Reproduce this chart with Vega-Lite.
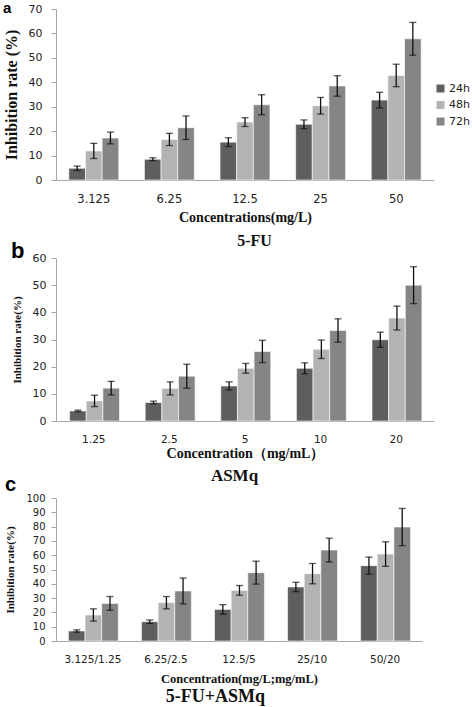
{
  "$schema": "https://vega.github.io/schema/vega-lite/v6.json",
  "background": "white",
  "padding": {"left": 3, "top": 1, "right": 0, "bottom": 0},
  "spacing": -9,
  "config": {
    "view": {"stroke": null},
    "axis": {"domainColor": "#a6a6a6", "tickColor": "#a6a6a6", "grid": false, "labelFont": "DejaVu Sans", "labelColor": "#222222", "titleFont": "Liberation Serif", "titleFontWeight": "bold", "titleColor": "#111111", "labelOverlap": false},
    "axisX": {"ticks": false, "labelAngle": 0},
    "axisY": {"tickSize": 5},
    "title": {"font": "Liberation Serif", "fontWeight": "bold", "color": "#111111"},
    "legend": {"title": null, "symbolType": "square", "symbolSize": 64, "symbolStrokeWidth": 0, "labelFont": "DejaVu Sans", "labelFontSize": 11, "labelColor": "#222222", "labelOffset": 3}
  },
  "datasets": {
    "a": [
      {"conc": "3.125", "time": "24h", "v": 4.8, "lo": 3.9, "hi": 5.7},
      {"conc": "3.125", "time": "48h", "v": 11.9, "lo": 8.8, "hi": 15.0},
      {"conc": "3.125", "time": "72h", "v": 17.2, "lo": 14.8, "hi": 19.6},
      {"conc": "6.25", "time": "24h", "v": 8.5, "lo": 7.9, "hi": 9.1},
      {"conc": "6.25", "time": "48h", "v": 16.6, "lo": 14.1, "hi": 19.1},
      {"conc": "6.25", "time": "72h", "v": 21.4, "lo": 16.6, "hi": 26.2},
      {"conc": "12.5", "time": "24h", "v": 15.5, "lo": 13.7, "hi": 17.3},
      {"conc": "12.5", "time": "48h", "v": 23.7, "lo": 21.9, "hi": 25.5},
      {"conc": "12.5", "time": "72h", "v": 30.8, "lo": 26.7, "hi": 34.9},
      {"conc": "25", "time": "24h", "v": 22.8, "lo": 21.0, "hi": 24.6},
      {"conc": "25", "time": "48h", "v": 30.4, "lo": 27.0, "hi": 33.8},
      {"conc": "25", "time": "72h", "v": 38.5, "lo": 34.3, "hi": 42.7},
      {"conc": "50", "time": "24h", "v": 32.7, "lo": 29.5, "hi": 35.9},
      {"conc": "50", "time": "48h", "v": 42.8, "lo": 38.2, "hi": 47.4},
      {"conc": "50", "time": "72h", "v": 57.8, "lo": 51.1, "hi": 64.5}
    ],
    "b": [
      {"conc": "1.25", "time": "24h", "v": 3.7, "lo": 3.4, "hi": 4.0},
      {"conc": "1.25", "time": "48h", "v": 7.4, "lo": 5.3, "hi": 9.5},
      {"conc": "1.25", "time": "72h", "v": 12.1, "lo": 9.6, "hi": 14.6},
      {"conc": "2.5", "time": "24h", "v": 6.8, "lo": 6.3, "hi": 7.3},
      {"conc": "2.5", "time": "48h", "v": 12.0, "lo": 9.6, "hi": 14.4},
      {"conc": "2.5", "time": "72h", "v": 16.5, "lo": 12.1, "hi": 20.9},
      {"conc": "5", "time": "24h", "v": 12.9, "lo": 11.4, "hi": 14.4},
      {"conc": "5", "time": "48h", "v": 19.4, "lo": 17.6, "hi": 21.2},
      {"conc": "5", "time": "72h", "v": 25.6, "lo": 21.5, "hi": 29.7},
      {"conc": "10", "time": "24h", "v": 19.4, "lo": 17.4, "hi": 21.4},
      {"conc": "10", "time": "48h", "v": 26.4, "lo": 23.0, "hi": 29.8},
      {"conc": "10", "time": "72h", "v": 33.3, "lo": 29.0, "hi": 37.6},
      {"conc": "20", "time": "24h", "v": 29.9, "lo": 27.1, "hi": 32.7},
      {"conc": "20", "time": "48h", "v": 37.9, "lo": 33.5, "hi": 42.3},
      {"conc": "20", "time": "72h", "v": 50.0, "lo": 43.2, "hi": 56.8}
    ],
    "c": [
      {"conc": "3.125/1.25", "time": "24h", "v": 7.0, "lo": 6.2, "hi": 7.8},
      {"conc": "3.125/1.25", "time": "48h", "v": 18.2, "lo": 13.9, "hi": 22.5},
      {"conc": "3.125/1.25", "time": "72h", "v": 26.3, "lo": 21.5, "hi": 31.1},
      {"conc": "6.25/2.5", "time": "24h", "v": 13.5, "lo": 12.3, "hi": 14.7},
      {"conc": "6.25/2.5", "time": "48h", "v": 26.8, "lo": 22.5, "hi": 31.1},
      {"conc": "6.25/2.5", "time": "72h", "v": 35.0, "lo": 26.0, "hi": 44.0},
      {"conc": "12.5/5", "time": "24h", "v": 22.1, "lo": 18.8, "hi": 25.4},
      {"conc": "12.5/5", "time": "48h", "v": 35.4, "lo": 32.0, "hi": 38.8},
      {"conc": "12.5/5", "time": "72h", "v": 47.8, "lo": 39.8, "hi": 55.8},
      {"conc": "25/10", "time": "24h", "v": 37.8, "lo": 34.5, "hi": 41.1},
      {"conc": "25/10", "time": "48h", "v": 47.1, "lo": 40.0, "hi": 54.2},
      {"conc": "25/10", "time": "72h", "v": 63.6, "lo": 55.3, "hi": 71.9},
      {"conc": "50/20", "time": "24h", "v": 52.7, "lo": 46.7, "hi": 58.7},
      {"conc": "50/20", "time": "48h", "v": 60.8, "lo": 52.2, "hi": 69.4},
      {"conc": "50/20", "time": "72h", "v": 79.7, "lo": 66.7, "hi": 92.7}
    ]
  },
  "vconcat": [
    {
      "title": {"text": "5-FU", "orient": "bottom", "anchor": "middle", "fontSize": 16, "offset": 8, "dx": 36},
      "vconcat": [
        {
          "title": {"text": "a", "orient": "top", "anchor": "start", "frame": "bounds", "font": "Liberation Sans", "fontSize": 15, "fontWeight": "bold", "color": "#000000", "offset": -13},
          "width": 378,
          "height": 171,
          "data": {"name": "a"},
          "encoding": {
            "x": {"field": "conc", "type": "nominal", "sort": ["3.125", "6.25", "12.5", "25", "50"], "scale": {"paddingInner": 0.34, "paddingOuter": 0.17}, "axis": {"title": "Concentrations(mg/L)", "titleFontSize": 14, "labelFontSize": 11.5, "labelPadding": 13, "titlePadding": 6}},
            "xOffset": {"field": "time", "type": "nominal", "sort": ["24h", "48h", "72h"]}
          },
          "layer": [
            {"mark": {"type": "bar", "stroke": "#ffffff", "strokeWidth": 0.6},
             "encoding": {
               "y": {"field": "v", "type": "quantitative", "scale": {"domain": [0, 70], "nice": false}, "axis": {"title": "Inhibition rate (%)", "titleFontSize": 16, "values": [0, 10, 20, 30, 40, 50, 60, 70], "labelFontSize": 11, "labelPadding": 9, "titlePadding": 9}},
               "color": {"field": "time", "type": "nominal", "scale": {"domain": ["24h", "48h", "72h"], "range": ["#5e5e5e", "#b3b3b3", "#858585"]}, "legend": {"orient": "none", "legendX": 379, "legendY": 74, "rowPadding": 4.5}}
             }},
            {"mark": {"type": "rule", "color": "#111111", "strokeWidth": 1.3},
             "encoding": {"y": {"field": "lo", "type": "quantitative", "axis": {"title": "Inhibition rate (%)", "titleFontSize": 16, "values": [0, 10, 20, 30, 40, 50, 60, 70], "labelFontSize": 11, "labelPadding": 9, "titlePadding": 9}}, "y2": {"field": "hi"}}},
            {"mark": {"type": "tick", "orient": "horizontal", "size": 7, "thickness": 1.3, "color": "#111111"},
             "encoding": {"y": {"field": "lo", "type": "quantitative", "axis": {"title": "Inhibition rate (%)", "titleFontSize": 16, "values": [0, 10, 20, 30, 40, 50, 60, 70], "labelFontSize": 11, "labelPadding": 9, "titlePadding": 9}}}},
            {"mark": {"type": "tick", "orient": "horizontal", "size": 7, "thickness": 1.3, "color": "#111111"},
             "encoding": {"y": {"field": "hi", "type": "quantitative", "axis": {"title": "Inhibition rate (%)", "titleFontSize": 16, "values": [0, 10, 20, 30, 40, 50, 60, 70], "labelFontSize": 11, "labelPadding": 9, "titlePadding": 9}}}}
          ]
        }
      ]
    },
    {
      "title": {"text": "ASMq", "orient": "bottom", "anchor": "middle", "fontSize": 17, "offset": 7, "dx": 12},
      "vconcat": [
        {
          "title": {"text": "b", "orient": "top", "anchor": "start", "frame": "bounds", "font": "Liberation Sans", "fontSize": 22, "fontWeight": "bold", "color": "#000000", "offset": -11},
          "width": 378,
          "height": 163,
          "data": {"name": "b"},
          "encoding": {
            "x": {"field": "conc", "type": "nominal", "sort": ["1.25", "2.5", "5", "10", "20"], "scale": {"paddingInner": 0.36, "paddingOuter": 0.18}, "axis": {"title": "Concentration（mg/mL）", "titleFontSize": 14, "labelFontSize": 10.5, "labelPadding": 13, "titlePadding": 2}},
            "xOffset": {"field": "time", "type": "nominal", "sort": ["24h", "48h", "72h"]}
          },
          "layer": [
            {"mark": {"type": "bar", "stroke": "#ffffff", "strokeWidth": 0.6},
             "encoding": {
               "y": {"field": "v", "type": "quantitative", "scale": {"domain": [0, 60], "nice": false}, "axis": {"title": "Inhibition rate(%)", "titleFontSize": 11, "values": [0, 10, 20, 30, 40, 50, 60], "labelFontSize": 11, "labelPadding": 5, "titlePadding": 10}},
               "color": {"field": "time", "type": "nominal", "scale": {"domain": ["24h", "48h", "72h"], "range": ["#5e5e5e", "#b3b3b3", "#858585"]}, "legend": {"orient": "none", "legendX": 383, "legendY": 51, "rowPadding": 9}}
             }},
            {"mark": {"type": "rule", "color": "#111111", "strokeWidth": 1.3},
             "encoding": {"y": {"field": "lo", "type": "quantitative", "axis": {"title": "Inhibition rate(%)", "titleFontSize": 11, "values": [0, 10, 20, 30, 40, 50, 60], "labelFontSize": 11, "labelPadding": 5, "titlePadding": 10}}, "y2": {"field": "hi"}}},
            {"mark": {"type": "tick", "orient": "horizontal", "size": 7, "thickness": 1.3, "color": "#111111"},
             "encoding": {"y": {"field": "lo", "type": "quantitative", "axis": {"title": "Inhibition rate(%)", "titleFontSize": 11, "values": [0, 10, 20, 30, 40, 50, 60], "labelFontSize": 11, "labelPadding": 5, "titlePadding": 10}}}},
            {"mark": {"type": "tick", "orient": "horizontal", "size": 7, "thickness": 1.3, "color": "#111111"},
             "encoding": {"y": {"field": "hi", "type": "quantitative", "axis": {"title": "Inhibition rate(%)", "titleFontSize": 11, "values": [0, 10, 20, 30, 40, 50, 60], "labelFontSize": 11, "labelPadding": 5, "titlePadding": 10}}}}
          ]
        }
      ]
    },
    {
      "title": {"text": "5-FU+ASMq", "orient": "bottom", "anchor": "middle", "fontSize": 18, "offset": 3, "dx": 2},
      "vconcat": [
        {
          "title": {"text": "c", "orient": "top", "anchor": "start", "frame": "bounds", "font": "Liberation Sans", "fontSize": 20, "fontWeight": "bold", "color": "#000000", "offset": -2},
          "width": 366,
          "height": 143,
          "data": {"name": "c"},
          "encoding": {
            "x": {"field": "conc", "type": "nominal", "sort": ["3.125/1.25", "6.25/2.5", "12.5/5", "25/10", "50/20"], "scale": {"paddingInner": 0.33, "paddingOuter": 0.17}, "axis": {"title": "Concentration(mg/L;mg/mL)", "titleFontSize": 12.5, "labelFontSize": 10.5, "labelPadding": 13, "titlePadding": 8}},
            "xOffset": {"field": "time", "type": "nominal", "sort": ["24h", "48h", "72h"]}
          },
          "layer": [
            {"mark": {"type": "bar", "stroke": "#ffffff", "strokeWidth": 0.6},
             "encoding": {
               "y": {"field": "v", "type": "quantitative", "scale": {"domain": [0, 100], "nice": false}, "axis": {"title": "Inhibition rate(%)", "titleFontSize": 11, "values": [0, 10, 20, 30, 40, 50, 60, 70, 80, 90, 100], "labelFontSize": 10, "labelPadding": 6, "titlePadding": 10}},
               "color": {"field": "time", "type": "nominal", "scale": {"domain": ["24h", "48h", "72h"], "range": ["#5e5e5e", "#b3b3b3", "#858585"]}, "legend": {"orient": "none", "legendX": 372, "legendY": 55, "rowPadding": 9}}
             }},
            {"mark": {"type": "rule", "color": "#111111", "strokeWidth": 1.3},
             "encoding": {"y": {"field": "lo", "type": "quantitative", "axis": {"title": "Inhibition rate(%)", "titleFontSize": 11, "values": [0, 10, 20, 30, 40, 50, 60, 70, 80, 90, 100], "labelFontSize": 10, "labelPadding": 6, "titlePadding": 10}}, "y2": {"field": "hi"}}},
            {"mark": {"type": "tick", "orient": "horizontal", "size": 7, "thickness": 1.3, "color": "#111111"},
             "encoding": {"y": {"field": "lo", "type": "quantitative", "axis": {"title": "Inhibition rate(%)", "titleFontSize": 11, "values": [0, 10, 20, 30, 40, 50, 60, 70, 80, 90, 100], "labelFontSize": 10, "labelPadding": 6, "titlePadding": 10}}}},
            {"mark": {"type": "tick", "orient": "horizontal", "size": 7, "thickness": 1.3, "color": "#111111"},
             "encoding": {"y": {"field": "hi", "type": "quantitative", "axis": {"title": "Inhibition rate(%)", "titleFontSize": 11, "values": [0, 10, 20, 30, 40, 50, 60, 70, 80, 90, 100], "labelFontSize": 10, "labelPadding": 6, "titlePadding": 10}}}}
          ]
        }
      ]
    }
  ]
}
